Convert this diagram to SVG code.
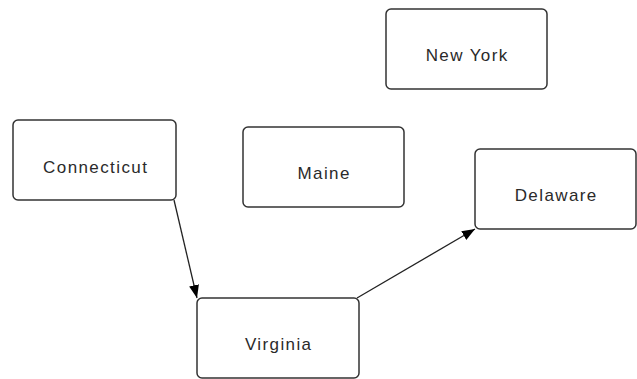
<svg xmlns="http://www.w3.org/2000/svg" width="637" height="379" viewBox="0 0 637 379">
<defs>
<style>
.box{fill:#fff;stroke:#333;stroke-width:1.5}
.lbl{font-family:"Liberation Sans",Arial,sans-serif;font-size:17px;letter-spacing:1.4px;fill:#2a2a2a;text-anchor:middle}
.edge{stroke:#222;stroke-width:1.3;fill:none;marker-end:url(#arr)}
</style>
<marker id="arr" markerWidth="13" markerHeight="10" refX="13" refY="5" orient="auto" markerUnits="userSpaceOnUse">
<path d="M0,0 L13,5 L0,10 z" fill="#000"/>
</marker>
</defs>
<rect width="637" height="379" fill="#fff"/>
<g id="edges">
<path class="edge" d="M174,200 L197,298"/>
<path class="edge" d="M357,298 L475,229"/>
</g>
<g id="newyork"><rect class="box" x="386" y="9" width="161" height="80" rx="5"/><text class="lbl" x="467.2" y="61">New York</text></g>
<g id="connecticut"><rect class="box" x="13" y="120" width="163" height="80" rx="5"/><text class="lbl" x="95.7" y="173">Connecticut</text></g>
<g id="maine"><rect class="box" x="243" y="127" width="161" height="80" rx="5"/><text class="lbl" x="324.2" y="179">Maine</text></g>
<g id="delaware"><rect class="box" x="475" y="149" width="161" height="80" rx="5"/><text class="lbl" x="556.2" y="201">Delaware</text></g>
<g id="virginia"><rect class="box" x="197" y="298" width="162" height="80" rx="5"/><text class="lbl" x="278.7" y="350">Virginia</text></g>
</svg>
